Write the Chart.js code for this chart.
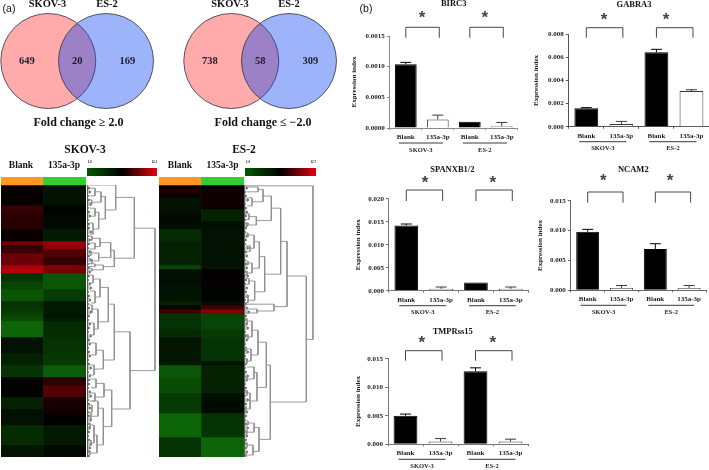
<!DOCTYPE html>
<html>
<head>
<meta charset="utf-8">
<title>Venn, heatmap and expression charts</title>
<script src="https://cdn.jsdelivr.net/npm/chart.js@4"></script>
<style>
  html, body { margin: 0; padding: 0; background: #fff; }
  #page { position: relative; width: 709px; height: 470px; overflow: hidden; font-family: "Liberation Serif", serif; font-weight: bold; color: #111; filter: blur(0.35px); }
  #page canvas { position: absolute; }
  .txt { position: absolute; white-space: nowrap; transform: translate(-50%, -50%); line-height: 1; }
  .legend { position: absolute; height: 8px; background: linear-gradient(to right, #005a00, #000 50%, #e6000f); }
</style>
</head>
<body>
<div id="page"></div>
<script>
// Venn counts
const vennSets = ['SKOV-3', 'ES-2'];
const vennUp = [649, 20, 169];
const vennDown = [738, 58, 309];

// Bar charts
const barLabels = ['Blank', '135a-3p', 'Blank', '135a-3p'];
const groupLabels = ['SKOV-3', 'ES-2'];

const birc3Values = [0.00104, 0.00014, 0.0001, 0.00003];
const birc3Errors = [0.00003, 0.00007, 0, 0.00006];
const birc3Ticks = [0, 0.0005, 0.001, 0.0015];

const gabra3Values = [0.00159, 0.00023, 0.00644, 0.00309];
const gabra3Errors = [0.00006, 0.00023, 0.00026, 0.00011];
const gabra3Ticks = [0, 0.002, 0.004, 0.006, 0.008];

const spanxValues = [0.0142, 0.0004, 0.0018, 0.0004];
const spanxErrors = [0.0003, 0.0004, 0, 0.0004];
const spanxTicks = [0, 0.005, 0.01, 0.015, 0.02];

const ncam2Values = [0.0098, 0.0004, 0.0069, 0.0004];
const ncam2Errors = [0.0004, 0.0004, 0.0009, 0.0004];
const ncam2Ticks = [0, 0.005, 0.01, 0.015];

const tmprValues = [0.005, 0.0005, 0.0128, 0.0005];
const tmprErrors = [0.0003, 0.0005, 0.0006, 0.0004];
const tmprTicks = [0, 0.005, 0.01, 0.015];

// Heatmap rows, top to bottom: + is red, - is green
const skovBlank = [.08,.03,.03,.03,.03,.25,.25,.18,.18,.18,.18,.05,.05,.05,.5,.25,.25,.5,.5,.5,.8,.85,
  -.3,-.3,-.4,-.4,-.5,-.5,-.5,-.3,-.3,-.35,-.4,-.45,-.6,-.6,-.6,-.6,-.1,-.1,-.1,-.1,-.2,-.2,-.2,-.3,-.3,-.3,
  -.02,-.02,-.02,-.02,.03,-.2,-.2,-.2,-.1,-.1,-.1,-.1,-.25,-.25,-.25,-.25,-.25,-.13,-.13,-.13];
const skovMir = [-.12,-.12,-.12,-.12,-.12,-.02,-.02,-.05,-.05,-.05,-.05,-.15,-.15,-.15,.7,.65,.4,.35,.25,.25,.6,.55,
  -.5,-.5,-.5,-.5,-.35,-.35,-.35,-.15,-.15,-.15,-.1,-.15,-.25,-.25,-.25,-.25,-.3,-.3,-.3,-.3,-.33,-.33,-.33,-.55,-.55,-.55,
  .2,.2,.38,.38,.38,.1,.1,.1,.08,.03,.02,0,-.15,-.15,-.15,-.15,-.15,-.05,-.05,-.05];
const esBlank = [.08,.15,.05,-.1,-.1,-.1,-.1,-.05,-.07,-.07,-.08,-.25,-.25,-.25,-.2,-.2,-.2,-.2,-.2,-.2,-.4,-.08,-.08,-.08,-.08,
  -.12,-.12,-.12,-.12,-.2,.05,.25,-.3,-.3,-.3,-.3,-.25,-.25,-.13,-.13,-.13,-.13,-.13,-.13,-.15,-.5,-.5,-.5,-.45,-.45,-.45,-.45,
  -.35,-.35,-.35,-.35,-.35,-.6,-.6,-.6,-.6,-.6,-.6,-.3,-.3,-.3,-.3,-.3];
const esMir = [0,.08,.08,.08,.08,.05,-.2,-.2,-.2,-.08,-.08,-.1,-.1,-.1,-.1,-.1,-.1,-.1,-.1,-.1,-.12,0,0,0,.05,
  -.02,-.02,-.02,-.02,-.08,.3,.6,-.4,-.4,-.4,-.4,-.35,-.35,-.3,-.3,-.3,-.3,-.3,-.3,-.12,-.2,-.2,-.2,-.2,-.2,-.2,-.2,
  -.1,-.07,-.07,-.07,-.07,-.3,-.3,-.3,-.3,-.3,-.3,-.6,-.6,-.6,-.6,-.6];
const heatColumns = ['Blank', '135a-3p'];

// Dendrogram merges: [height, topRow, topChildHeight, bottomRow, bottomChildHeight]
const skovTree = [
  [68,10.8,47.3,46.4,43],[47.3,3.1,28.7,18.3,27.3],[43,36.7,27.3,56,24.7],
  [28.7,0,0,6.25,18.3],[18.3,2.9,14,8.5,11.7],[14,1.7,8,4.3,4.7],[8,.8,3,2.7,2],[4.7,3.7,2,5,1.5],
  [11.7,6.8,8,11,6],[8,5.8,3,7.8,4],[6,9.5,3,12.3,3],
  [27.3,16.3,23.7,20.4,16.3],[23.7,14.4,13,18.1,11.7],[13,13.3,5,15.4,8],[11.7,17,4,19,5],[16.3,20,8,21.2,5],
  [8,14.5,3,16,2],[5,12.8,2,13.8,1],[4,16.5,1,17.6,2],[5,18.5,2,19.6,1],[8,19.7,0,20.4,0],[5,20.9,0,21.5,0],
  [27.3,29.8,21.3,43.75,16.3],[21.3,25.6,13,34.2,11],[13,23.5,6,28,8],[11,31,5,36,7],[6,22.5,3,24.5,2],[8,26.5,3,29.5,4],
  [5,30,2,32,2],[7,34.5,3,37.5,3],[16.3,41.3,9,46,7],[9,39.5,3,42.5,4],[7,45,3,47.5,2],
  [24.7,51.25,17,60.4,16.3],[17,49.6,9,53,8],[9,48.5,3,50.7,4],[8,52,3,54,2],[16.3,55.8,11,65,10],[11,54,5,57.8,4],
  [10,62.5,7,67,3],[7,60,3,64.5,4],[5,55,2,56.8,2],[4,57,1,58.6,2],[3,59.5,1,60.6,1],[4,63.8,1,65.2,2],[3,66.4,1,67.5,1]
];
const esTree = [
  [69,.2,0,38.6,62.3],[62.3,22.75,43,54.25,26.3],[43,14.1,36.7,30.4,30],[36.7,5.8,27.3,22.3,20.7],
  [27.3,2.75,19,8.9,12.3],[19,1.1,14,4.2,8],[14,.5,3,1.7,2.5],[8,3.2,3,5.2,3],[12.3,7.9,5,10,3],
  [20.7,17.9,15.3,26.7,10.7],[15.3,14.2,10,20.8,8],[10,12.5,4,15.8,6],[8,19.5,4,22,3],[10.7,24,5,28.8,4],
  [6,15.2,2,16.6,3],[4,12,1,13,2],[4,19,1,20,2],[3,21.5,1,22.5,1],[5,23.4,2,24.8,2],[4,28,1,29.4,2],[5,7.2,1,8.6,2],[3,9.5,1,10.5,1],
  [30,29.8,0,31.5,13],[13,31,2,32,2],
  [26.3,45,22.3,63.6,15],[22.3,39.3,14,50.6,13],[14,36.3,8,42.5,7],[8,34,3,38,4],[7,41,2,44,3],
  [13,46.9,10,54,6],[10,45.5,3,48.5,4],[6,52,3,56,2],[15,60.6,10,66.6,9],[10,59.5,4,61.8,3],[9,65,3,67.5,2],
  [3,33.4,1,34.6,1],[4,37.4,1,38.6,2],[2,40.5,0,41.5,1],[3,43.4,1,44.6,1],[3,47.9,1,49,1],[3,51.4,1,52.6,1],
  [2,55.4,0,56.6,1],[4,59,1,60,2],[3,61.3,1,62.3,1],[3,64.4,1,65.6,1],[2,67,0,68,0]
];
// Short leaf stubs along the heatmap edge, one per row
const skovLeaves = [2,3,1,2,4,1,2,3,1,2,2,4,1,3,2,1,3,2,4,1,2,3,2,1,3,4,1,2,3,1,2,4,2,1,3,2,1,4,2,3,1,2,3,1,2,4,1,3,2,2,1,3,4,1,2,3,1,2,4,1,3,2,1,2,4,3,1,2];
const esLeaves = [3,1,2,4,1,2,3,2,1,4,2,1,3,2,1,4,2,3,1,2,3,1,4,2,1,3,2,4,1,2,3,5,2,1,3,4,1,2,3,1,2,4,1,3,2,1,2,4,3,1,2,3,1,4,2,1,3,2,1,2,4,1,3,2,1,2,3,1];

const page = document.getElementById('page');
const barFont = { family: 'Liberation Serif', weight: 'bold', size: 7 };

function addText(text, x, y, size, family) {
  const el = document.createElement('div');
  el.className = 'txt';
  el.textContent = text;
  el.style.left = x + 'px';
  el.style.top = y + 'px';
  el.style.fontSize = size + 'px';
  if (family) {
    el.style.fontFamily = family;
    el.style.fontWeight = 'normal';
  }
  page.appendChild(el);
}

function addCanvas(left, top, width, height) {
  const canvas = document.createElement('canvas');
  canvas.width = width;
  canvas.height = height;
  canvas.style.left = left + 'px';
  canvas.style.top = top + 'px';
  canvas.style.width = width + 'px';
  canvas.style.height = height + 'px';
  page.appendChild(canvas);
  return canvas.getContext('2d');
}

// Venn: two circles on a linear scale, counts written at the region centres
function drawVenn(left, counts) {
  const ctx = addCanvas(left, 0, 160, 122);
  new Chart(ctx, {
    type: 'scatter',
    data: {
      datasets: [
        { label: vennSets[0], order: 2, data: [{ x: 0, y: 0 }], clip: false, pointRadius: 47.5, pointBackgroundColor: '#ffabab', pointBorderColor: '#33333a', pointBorderWidth: 0.8 },
        { label: vennSets[1], order: 1, data: [{ x: 1, y: 0 }], clip: false, pointRadius: 47.5, pointBackgroundColor: 'rgba(10,67,242,0.4)', pointBorderColor: '#33333a', pointBorderWidth: 0.8 }
      ]
    },
    options: {
      responsive: false,
      animation: false,
      layout: { padding: 0, autoPadding: false },
      plugins: { legend: { display: false }, tooltip: { enabled: false } },
      scales: {
        x: { display: false, min: -0.837, max: 1.936 },
        y: { display: false, min: -1, max: 1 }
      }
    },
    plugins: [{
      id: 'vennCounts',
      afterDatasetsDraw(chart) {
        const c = chart.ctx;
        const xs = [-0.37, 0.5, 1.37];
        c.save();
        c.font = 'bold 10.5px "Liberation Serif"';
        c.fillStyle = '#1c1c28';
        c.textAlign = 'center';
        c.textBaseline = 'middle';
        counts.forEach((n, i) => c.fillText(n, chart.scales.x.getPixelForValue(xs[i]), chart.scales.y.getPixelForValue(0)));
        c.restore();
      }
    }]
  });
}

function heatColor(v) {
  if (v >= 0) return `rgb(${Math.round(215 * v)},0,${Math.round(12 * v)})`;
  return `rgb(${Math.round(-20 * v)},${Math.round(-170 * v)},${Math.round(-12 * v)})`;
}

// Heatmap: one stacked bar per row, the first one is the coloured condition strip
function drawHeatmap(left, width, blank, mir) {
  const ctx = addCanvas(left, 177, width, 280);
  const datasets = [{
    data: [2, 2],
    backgroundColor: ['#ff9a1f', '#33cc33'],
    stack: 's'
  }];
  blank.forEach((v, i) => {
    datasets.push({
      data: [1, 1],
      backgroundColor: [heatColor(v), heatColor(mir[i])],
      stack: 's'
    });
  });
  new Chart(ctx, {
    type: 'bar',
    data: { labels: heatColumns, datasets },
    options: {
      responsive: false,
      animation: false,
      layout: { padding: 0 },
      datasets: { bar: { barPercentage: 1, categoryPercentage: 1, borderWidth: 0 } },
      plugins: { legend: { display: false }, tooltip: { enabled: false } },
      scales: {
        x: { display: false, stacked: true },
        y: { display: false, stacked: true, reverse: true, min: 0, max: blank.length + 2 }
      }
    }
  });
}

// Dendrogram: merges joined into one line with gaps, leaf stubs in a second one
function drawTree(left, width, merges, leaves, maxH) {
  const ctx = addCanvas(left, 185, width, 272);
  const pts = [];
  merges.forEach(m => {
    pts.push({ x: m[2], y: m[1] }, { x: m[0], y: m[1] }, { x: m[0], y: m[3] }, { x: m[4], y: m[3] }, { x: m[4], y: null });
  });
  const stubs = [{ x: 0.3, y: 0 }, { x: 0.3, y: leaves.length }, { x: 0.3, y: null }];
  leaves.forEach((h, i) => {
    stubs.push({ x: 0, y: i + 0.5 }, { x: h, y: i + 0.5 }, { x: h, y: i + 1 }, { x: 0, y: i + 1 }, { x: 0, y: null });
  });
  new Chart(ctx, {
    type: 'scatter',
    data: {
      datasets: [
        { data: pts, showLine: true, spanGaps: false, pointRadius: 0, borderColor: '#8f8f8f', borderWidth: 0.9 },
        { data: stubs, showLine: true, spanGaps: false, pointRadius: 0, borderColor: '#555', borderWidth: 0.7 }
      ]
    },
    options: {
      responsive: false,
      animation: false,
      layout: { padding: 0, autoPadding: false },
      plugins: { legend: { display: false }, tooltip: { enabled: false } },
      scales: {
        x: { display: false, min: 0, max: maxH },
        y: { display: false, reverse: true, min: 0, max: 68 }
      }
    }
  });
}

// Bar chart with error bars, significance brackets and group labels
function drawBars(c) {
  const left = Math.round(c.titleX - 4);
  const top = Math.round(c.plotTop - 36);
  const width = Math.round(Math.min(c.plotRight + 2, 709) - left);
  const height = Math.round(c.plotBottom + 30 - top);
  const ctx = addCanvas(left, top, width, height);
  new Chart(ctx, {
    type: 'bar',
    data: {
      labels: barLabels,
      datasets: [{
        data: c.values,
        backgroundColor: ['#000', '#fff', '#000', '#fff'],
        borderColor: ['#000', '#3a3a3a', '#000', '#3a3a3a'],
        borderWidth: 1,
        barPercentage: 0.68,
        categoryPercentage: 1
      }]
    },
    options: {
      responsive: false,
      animation: false,
      layout: { padding: { top: c.plotTop - top, right: width - (c.plotRight - left), left: 0, bottom: 0 } },
      plugins: { legend: { display: false }, tooltip: { enabled: false } },
      scales: {
        x: {
          grid: { drawOnChartArea: false, tickLength: 2, color: c.axisColor },
          border: { color: c.axisColor },
          ticks: { font: barFont, color: '#222', maxRotation: 0, autoSkip: false, padding: 3 },
          afterFit(scale) { scale.height = height - (c.plotBottom - top); }
        },
        y: {
          min: c.ticks[0],
          max: c.ticks[c.ticks.length - 1],
          grid: { drawOnChartArea: false, tickLength: 3, color: c.axisColor },
          border: { color: c.axisColor },
          title: { display: true, text: 'Expression index', font: barFont, color: '#222', padding: 0 },
          ticks: {
            font: barFont,
            color: '#222',
            padding: 2,
            callback: v => v.toFixed(c.digits),
            stepSize: c.ticks[1] - c.ticks[0]
          },
          afterFit(scale) { scale.width = c.plotLeft - left; }
        }
      }
    },
    plugins: [{
      id: 'barExtras',
      afterDatasetsDraw(chart) {
        const g = chart.ctx;
        const xs = chart.scales.x;
        const ys = chart.scales.y;
        g.save();
        // error bars
        c.errors.forEach((e, i) => {
          if (!e) return;
          const x = xs.getPixelForValue(i);
          const y1 = ys.getPixelForValue(c.values[i]);
          const y2 = ys.getPixelForValue(c.values[i] + e);
          g.strokeStyle = i % 2 ? '#3a3a3a' : '#000';
          g.lineWidth = 1;
          g.beginPath();
          g.moveTo(x, y1); g.lineTo(x, y2);
          g.moveTo(x - 5.5, y2); g.lineTo(x + 5.5, y2);
          g.stroke();
        });
        // brackets and stars
        const pt = c.plotTop - top;
        [[0, 1, c.starX[0]], [2, 3, c.starX[1]]].forEach(([a, b, sx]) => {
          const x1 = xs.getPixelForValue(a);
          const x2 = xs.getPixelForValue(b) + 1.5;
          g.strokeStyle = '#333';
          g.lineWidth = 0.9;
          g.beginPath();
          g.moveTo(x1, pt + c.legEnd);
          g.lineTo(x1, pt - c.bracketUp);
          g.lineTo(x2, pt - c.bracketUp);
          g.lineTo(x2, pt + c.legEnd);
          g.stroke();
          g.fillStyle = '#444';
          g.font = 'bold 17px "Liberation Sans"';
          g.textAlign = 'center';
          g.textBaseline = 'middle';
          g.fillText('*', sx - left, c.starY - top + 2.5);
        });
        // group underline and names
        const bottom = c.plotBottom - top;
        groupLabels.forEach((name, i) => {
          const x1 = xs.getPixelForValue(i * 2) - 7;
          const x2 = xs.getPixelForValue(i * 2 + 1) + 5;
          g.strokeStyle = '#222';
          g.lineWidth = 0.9;
          g.beginPath();
          g.moveTo(x1, bottom + 15);
          g.lineTo(x2, bottom + 15);
          g.stroke();
          g.fillStyle = '#222';
          g.font = 'bold 6.5px "Liberation Serif"';
          g.textAlign = 'center';
          g.textBaseline = 'middle';
          g.fillText(name, (x1 + x2) / 2, bottom + 22);
        });
        // gene name
        g.fillStyle = '#111';
        g.font = 'bold 8.5px "Liberation Serif"';
        g.textAlign = 'center';
        g.textBaseline = 'middle';
        g.fillText(c.name, c.nameX - left, c.nameY - top);
        g.restore();
      }
    }]
  });
}

drawVenn(0, vennUp);
drawVenn(183, vennDown);

addText('(a)', 9, 8, 10.5, '"Liberation Sans"');
addText('(b)', 366, 8, 10.5, '"Liberation Sans"');
addText('SKOV-3', 47.5, 4, 10.5);
addText('ES-2', 107, 4, 10.5);
addText('SKOV-3', 230, 4, 10.5);
addText('ES-2', 289, 4, 10.5);
addText('Fold change ≥ 2.0', 78.5, 122, 12);
addText('Fold change ≤ −2.0', 263, 122, 12);

addText('SKOV-3', 85, 150, 11.5);
addText('ES-2', 244, 150, 11.5);
addText('Blank', 21, 165.5, 9.5);
addText('135a-3p', 64, 165.5, 9.5);
addText('Blank', 180, 166, 9.5);
addText('135a-3p', 222.5, 166, 9.5);

[[86.7, 70.6], [245, 71.3]].forEach(([x, w], i) => {
  const bar = document.createElement('div');
  bar.className = 'legend';
  bar.style.left = x + 'px';
  bar.style.top = '168.3px';
  bar.style.width = w + 'px';
  page.appendChild(bar);
  addText('1.0', x + 3, 163, 3.2);
  addText(i ? '12.7' : '12.3', x + w - 3, 163, 3.2);
});

drawHeatmap(1, 85, skovBlank, skovMir);
drawTree(87, 72, skovTree, skovLeaves, 72);
drawHeatmap(159, 85, esBlank, esMir);
drawTree(244, 72, esTree, esLeaves, 72);

drawBars({ name: 'BIRC3', nameX: 453.7, nameY: 4, values: birc3Values, errors: birc3Errors, ticks: birc3Ticks, digits: 4,
  titleX: 354, plotLeft: 389.8, plotRight: 517.8, plotTop: 36, plotBottom: 128, axisColor: '#8a8a8a',
  bracketUp: 8.7, legEnd: 1.7, starX: [422, 484.7], starY: 15.7 });
drawBars({ name: 'GABRA3', nameX: 634, nameY: 4.5, values: gabra3Values, errors: gabra3Errors, ticks: gabra3Ticks, digits: 3,
  titleX: 535.7, plotLeft: 568.8, plotRight: 709, plotTop: 34.3, plotBottom: 126.7, axisColor: '#555',
  bracketUp: 6.6, legEnd: 3.4, starX: [604, 666], starY: 18.3 });
drawBars({ name: 'SPANXB1/2', nameX: 452.3, nameY: 169.3, values: spanxValues, errors: spanxErrors, ticks: spanxTicks, digits: 3,
  titleX: 358, plotLeft: 388.9, plotRight: 528.2, plotTop: 198.7, plotBottom: 290.7, axisColor: '#777',
  bracketUp: 8.7, legEnd: 2.3, starX: [425, 492.7], starY: 181 });
drawBars({ name: 'NCAM2', nameX: 633.3, nameY: 170, values: ncam2Values, errors: ncam2Errors, ticks: ncam2Ticks, digits: 3,
  titleX: 540, plotLeft: 570.8, plotRight: 706, plotTop: 200.7, plotBottom: 290.3, axisColor: '#666',
  bracketUp: 8.7, legEnd: 2, starX: [603.3, 670], starY: 179 });
drawBars({ name: 'TMPRss15', nameX: 452.7, nameY: 331.7, values: tmprValues, errors: tmprErrors, ticks: tmprTicks, digits: 3,
  titleX: 358, plotLeft: 388, plotRight: 528, plotTop: 358.7, plotBottom: 444.3, axisColor: '#777',
  bracketUp: 8, legEnd: 2, starX: [421.7, 492.7], starY: 341 });
</script>
</body>
</html>
